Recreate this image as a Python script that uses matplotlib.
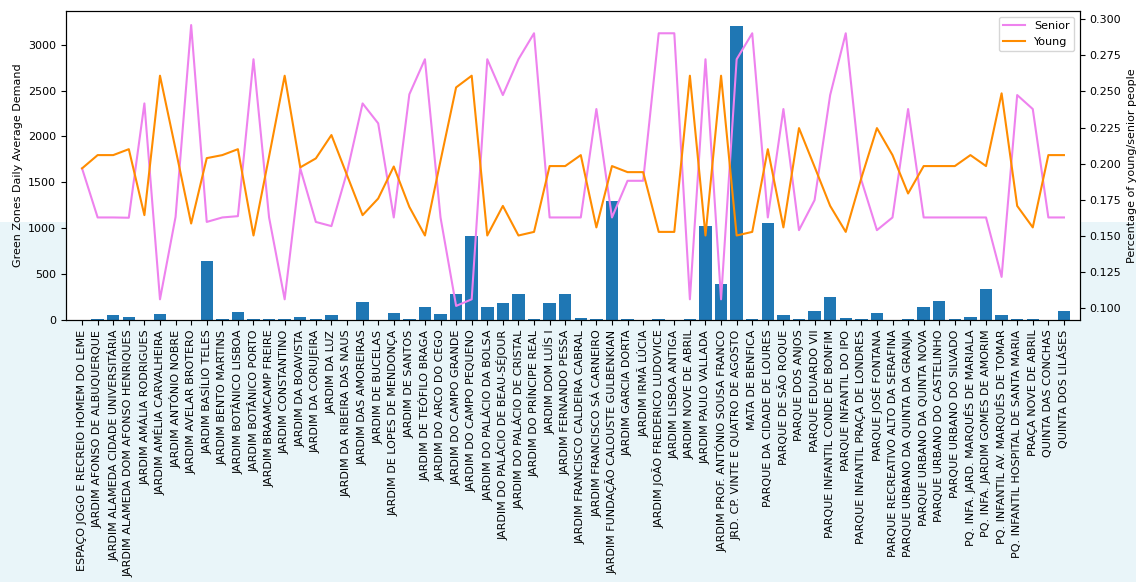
import numpy as np
import matplotlib
matplotlib.use("Agg")
import matplotlib.pyplot as plt
from matplotlib.patches import Rectangle

zones = [
    "ESPAÇO JOGO E RECREIO HOMEM DO LEME", "JARDIM AFONSO DE ALBUQUERQUE",
    "JARDIM ALAMEDA CIDADE UNIVERSITÁRIA", "JARDIM ALAMEDA DOM AFONSO HENRIQUES",
    "JARDIM AMÁLIA RODRIGUES", "JARDIM AMÉLIA CARVALHEIRA", "JARDIM ANTÓNIO NOBRE",
    "JARDIM AVELAR BROTERO", "JARDIM BASÍLIO TELES", "JARDIM BENTO MARTINS",
    "JARDIM BOTÂNICO LISBOA", "JARDIM BOTÂNICO PORTO", "JARDIM BRAAMCAMP FREIRE",
    "JARDIM CONSTANTINO", "JARDIM DA BOAVISTA", "JARDIM DA CORUJEIRA", "JARDIM DA LUZ",
    "JARDIM DA RIBEIRA DAS NAUS", "JARDIM DAS AMOREIRAS", "JARDIM DE BUCELAS",
    "JARDIM DE LOPES DE MENDONÇA", "JARDIM DE SANTOS", "JARDIM DE TEÓFILO BRAGA",
    "JARDIM DO ARCO DO CEGO", "JARDIM DO CAMPO GRANDE", "JARDIM DO CAMPO PEQUENO",
    "JARDIM DO PALÁCIO DA BOLSA", "JARDIM DO PALÁCIO DE BEAU-SÉJOUR",
    "JARDIM DO PALÁCIO DE CRISTAL", "JARDIM DO PRÍNCIPE REAL", "JARDIM DOM LUÍS I",
    "JARDIM FERNANDO PESSA", "JARDIM FRANCISCO CALDEIRA CABRAL",
    "JARDIM FRANCISCO SÁ CARNEIRO", "JARDIM FUNDAÇÃO CALOUSTE GULBENKIAN",
    "JARDIM GARCIA DORTA", "JARDIM IRMÃ LÚCIA", "JARDIM JOÃO FREDERICO LUDOVICE",
    "JARDIM LISBOA ANTIGA", "JARDIM NOVE DE ABRIL", "JARDIM PAULO VALLADA",
    "JARDIM PROF. ANTÓNIO SOUSA FRANCO", "JRD. CP. VINTE E QUATRO DE AGOSTO",
    "MATA DE BENFICA", "PARQUE DA CIDADE DE LOURES", "PARQUE DE SÃO ROQUE",
    "PARQUE DOS ANJOS", "PARQUE EDUARDO VII", "PARQUE INFANTIL CONDE DE BONFIM",
    "PARQUE INFANTIL DO IPO", "PARQUE INFANTIL PRAÇA DE LONDRES", "PARQUE JOSÉ FONTANA",
    "PARQUE RECREATIVO ALTO DA SERAFINA", "PARQUE URBANO DA QUINTA DA GRANJA",
    "PARQUE URBANO DA QUINTA NOVA", "PARQUE URBANO DO CASTELINHO",
    "PARQUE URBANO DO SILVADO", "PQ. INFA. JARD. MARQUÊS DE MARIALA",
    "PQ. INFA. JARDIM GOMES DE AMORIM", "PQ. INFANTIL AV. MARQUÊS DE TOMAR",
    "PQ. INFANTIL HOSPITAL DE SANTA MARIA", "PRAÇA NOVE DE ABRIL",
    "QUINTA DAS CONCHAS", "QUINTA DOS LILÁSES",
]

demand = [0, 11, 51, 36, 0, 62, 0, 0, 643, 11,
          87, 11, 11, 11, 36, 11, 51, 0, 196, 0,
          73, 11, 145, 69, 280, 915, 145, 182, 280, 11,
          182, 280, 22, 11, 1296, 11, 0, 11, 0, 11,
          1024, 392, 3206, 11, 1053, 51, 11, 98, 247, 22,
          11, 73, 0, 11, 145, 207, 11, 36, 334, 51,
          11, 11, 0, 98]

senior = [0.1967, 0.1627, 0.1627, 0.1625, 0.2417, 0.106, 0.1631, 0.296, 0.1596, 0.1627,
          0.1636, 0.2723, 0.1627, 0.106, 0.1967, 0.1596, 0.1567, 0.194, 0.2417, 0.2279,
          0.1627, 0.248, 0.2723, 0.1627, 0.1014, 0.106, 0.2723, 0.2475, 0.2723, 0.2903,
          0.1627, 0.1627, 0.1627, 0.2378, 0.1627, 0.1881, 0.1881, 0.2903, 0.2903, 0.106,
          0.2723, 0.106, 0.2723, 0.2903, 0.1627, 0.2378, 0.1539, 0.1747, 0.2475, 0.2903,
          0.1886, 0.1539, 0.1627, 0.2378, 0.1627, 0.1627, 0.1627, 0.1627, 0.1627, 0.1215,
          0.2475, 0.2378, 0.1627, 0.1627]

young = [0.1967, 0.2059, 0.2059, 0.21, 0.1643, 0.2609, 0.21, 0.1585, 0.2038, 0.2059,
         0.21, 0.1502, 0.205, 0.2609, 0.1974, 0.2036, 0.2198, 0.192, 0.1643, 0.1758,
         0.198, 0.17, 0.1502, 0.202, 0.2528, 0.2609, 0.1502, 0.1707, 0.1502, 0.1527,
         0.1983, 0.1983, 0.2059, 0.1558, 0.1983, 0.1941, 0.1941, 0.1527, 0.1527, 0.2609,
         0.1502, 0.2609, 0.1502, 0.1527, 0.21, 0.1558, 0.2246, 0.1978, 0.1707, 0.1527,
         0.19, 0.2246, 0.2059, 0.1793, 0.1983, 0.1983, 0.1983, 0.2059, 0.1983, 0.2487,
         0.1707, 0.1558, 0.2059, 0.2059]

plt.rcParams['font.size'] = 8

fig = plt.figure(figsize=(11.36, 5.82), dpi=100)
# pale band behind the lower part of the page
fig.patches.append(Rectangle((0, 0), 1, 1 - 222 / 582, transform=fig.transFigure,
                             facecolor='#e9f5f9', edgecolor='none', zorder=-10))

ax = fig.add_axes([0.0581, 0.4502, 0.8926, 0.5309])
x = np.arange(len(zones))
ax.bar(x, demand, color='tab:blue')
ax.set_ylabel("Green Zones Daily Average Demand")
ax.set_xticks(x)
ax.set_xticklabels(zones, rotation=90)
ax.set_xlim(-1.03, len(zones) - 1 + 1.03)

ax2 = ax.twinx()
ax2.plot(x, senior, color='violet', lw=1.5, label='Senior')
ax2.plot(x, young, color='darkorange', lw=1.5, label='Young')
ax2.set_ylabel("Percentage of young/senior people")
ax2.legend(loc='upper right')

fig.savefig('out.png', dpi=100)
